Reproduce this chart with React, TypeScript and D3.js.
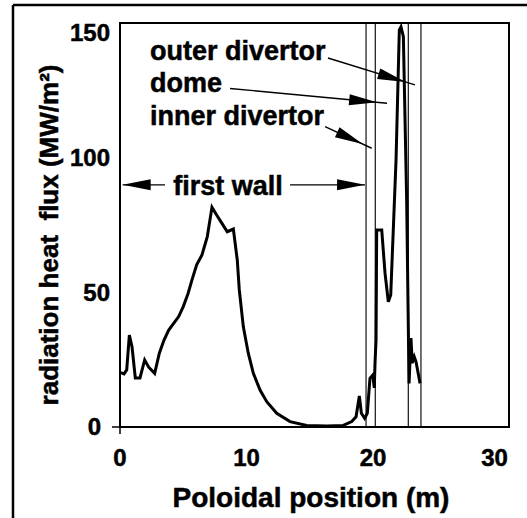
import React from 'react';
import * as d3 from 'd3';

// poloidal position (m) and radiation heat flux (MW/m2)
const position = [
  0.06, 0.32, 0.53, 0.74, 0.95, 1.21, 1.58, 1.95, 2.27, 2.74, 3.11, 3.48, 3.85, 4.27, 4.64,
  5.0, 5.38, 5.69, 6.06, 6.48, 6.9, 7.27, 7.64, 8.06, 8.48, 8.96, 9.27, 9.43, 9.75, 10.14,
  10.54, 11.07, 11.6, 12.39, 13.44, 14.76, 16.34, 17.65, 18.32, 18.66, 18.92, 19.08, 19.34,
  19.55, 19.76, 19.98, 20.1, 20.16, 20.24, 20.29, 20.69, 20.95, 21.21, 21.4, 21.82, 22.08,
  22.21, 22.4, 22.66, 22.85, 23.0, 23.1, 23.26, 23.4, 23.72,
];
const flux = [
  20.2, 19.7, 21.2, 34.1, 29.8, 18.2, 18.2, 24.9, 22.2, 19.9, 27.4, 32.3, 36.0, 38.7, 41.0,
  44.7, 49.6, 54.6, 60.2, 63.9, 70.7, 81.6, 78.7, 75.6, 72.5, 73.5, 62.0, 50.9, 37.2, 27.4,
  19.9, 13.7, 9.4, 5.1, 2.0, 0.6, 0.4, 0.6, 2.0, 3.8, 11.5, 5.1, 3.2,
  5.1, 18.1, 19.3, 14.5, 23.8, 32.3, 73.1, 73.1, 57.1, 46.5, 49.0, 99.1, 147.4,
  148.6, 144.9, 84.3, 16.2, 33.0, 23.7, 26.1, 24.2, 16.2,
];

// region boundaries: first wall | inner divertor | dome | outer divertor
const boundaries = [19.45, 20.18, 22.79, 23.79];

const xTicks = [0, 10, 20, 30];
const yTicks = [0, 50, 100, 150];

// labels with arrows, in data units
const regionLabels = [
  { text: 'outer divertor', x: 2.37, y: 136.3, from: [16.44, 137.0], to: [23.32, 127.0] },
  { text: 'dome', x: 2.37, y: 124.3, from: [8.7, 125.7], to: [21.11, 120.2] },
  { text: 'inner divertor', x: 2.37, y: 112.0, from: [16.21, 111.5], to: [19.9, 103.5] },
];
const wallLabel = { text: 'first wall', x: 8.53, y: 86.1, arrowY: 89.9, left: [3.56, 0.21], right: [13.44, 19.37] };

const W = 527;
const H = 518;
const font = 'Liberation Sans, Arial, Helvetica, sans-serif';

const Arrow = ({ x1, y1, x2, y2, back = 0 }) => {
  // arrow head tip sits `back` px before the line end
  const dx = x2 - x1;
  const dy = y2 - y1;
  const len = Math.hypot(dx, dy);
  const ux = dx / len;
  const uy = dy / len;
  const tx = x2 - ux * back;
  const ty = y2 - uy * back;
  const hl = 28;
  const hw = 5.5;
  const bx = tx - ux * hl;
  const by = ty - uy * hl;
  const pts = [
    [tx, ty],
    [bx - uy * hw, by + ux * hw],
    [bx + uy * hw, by - ux * hw],
  ];
  return (
    <g>
      <line x1={x1} y1={y1} x2={x2} y2={y2} stroke="#000" strokeWidth={1.4} />
      <polygon points={pts.map((p) => p.join(',')).join(' ')} fill="#000" />
    </g>
  );
};

export default function App() {
  const left = 120;
  const right = 509;
  const top = 23;
  const bottom = 427;

  const x = d3.scaleLinear().domain([0, 30.75]).range([left, right]);
  const y = d3.scaleLinear().domain([0, 150]).range([bottom, top]);

  const pts = position.map((p, i) => [p, flux[i]]);
  const line = d3.line().x((d) => x(d[0])).y((d) => y(d[1]));

  // scanned lettering is a bit heavier than the plain bold face
  const ink = { stroke: '#000', strokeWidth: 0.5 };

  return (
    <div style={{ position: 'absolute', left: 0, top: 0 }}>
      <svg width={W} height={H} style={{ display: 'block', background: '#fff' }} fontFamily={font} fontWeight="bold">
        {/* outer border */}
        <line x1={13} y1={5} x2={W} y2={5} stroke="#000" strokeWidth={2.5} />
        <line x1={13} y1={5} x2={13} y2={H} stroke="#000" strokeWidth={2.5} />

        {/* region boundaries */}
        {boundaries.map((b) => (
          <line key={b} x1={x(b)} x2={x(b)} y1={top} y2={bottom} stroke="#111" strokeWidth={1.2} />
        ))}

        {/* plot frame */}
        <rect x={left} y={top} width={right - left} height={bottom - top} fill="none" stroke="#000" strokeWidth={2} />
        <line x1={left - 8} x2={left} y1={y(0)} y2={y(0)} stroke="#000" strokeWidth={1.5} />
        <line x1={x(0)} x2={x(0)} y1={bottom} y2={bottom + 7} stroke="#000" strokeWidth={1.5} />

        {/* curve */}
        <path d={line(pts)} fill="none" stroke="#000" strokeWidth={3} strokeLinejoin="miter" />

        <g {...ink}>
          {/* y tick labels */}
          {yTicks.map((t) => (
            <text
              key={t}
              x={t === 0 ? left - 19 : left - 10}
              y={y(t) + (t === 150 ? 10 : 0)}
              dy="0.35em"
              textAnchor="end"
              fontSize={24}
            >
              {t}
            </text>
          ))}

          {/* x tick labels */}
          {xTicks.map((t, i) => (
            <text
              key={t}
              x={x(t) - (i === xTicks.length - 1 ? 5 : 0)}
              y={466}
              textAnchor="middle"
              fontSize={24}
            >
              {t}
            </text>
          ))}

          {/* axis titles */}
          <text x={311} y={507} textAnchor="middle" fontSize={28}>
            Poloidal position (m)
          </text>
          <text
            transform="translate(58,235) rotate(-90)"
            textAnchor="middle"
            fontSize={26}
            style={{ whiteSpace: 'pre' }}
          >
            {'radiation heat  flux (MW/m²)'}
          </text>

          {/* annotation text */}
          {regionLabels.map((l) => (
            <text key={l.text} x={x(l.x)} y={y(l.y)} fontSize={27}>
              {l.text}
            </text>
          ))}
          <text x={x(wallLabel.x)} y={y(wallLabel.y)} textAnchor="middle" fontSize={27}>
            {wallLabel.text}
          </text>
        </g>

        {/* annotation arrows */}
        {regionLabels.map((l) => (
          <Arrow key={l.text} x1={x(l.from[0])} y1={y(l.from[1])} x2={x(l.to[0])} y2={y(l.to[1])} back={10} />
        ))}
        <Arrow
          x1={x(wallLabel.left[0])}
          y1={y(wallLabel.arrowY)}
          x2={x(wallLabel.left[1])}
          y2={y(wallLabel.arrowY)}
        />
        <Arrow
          x1={x(wallLabel.right[0])}
          y1={y(wallLabel.arrowY)}
          x2={x(wallLabel.right[1])}
          y2={y(wallLabel.arrowY)}
        />
      </svg>
    </div>
  );
}
